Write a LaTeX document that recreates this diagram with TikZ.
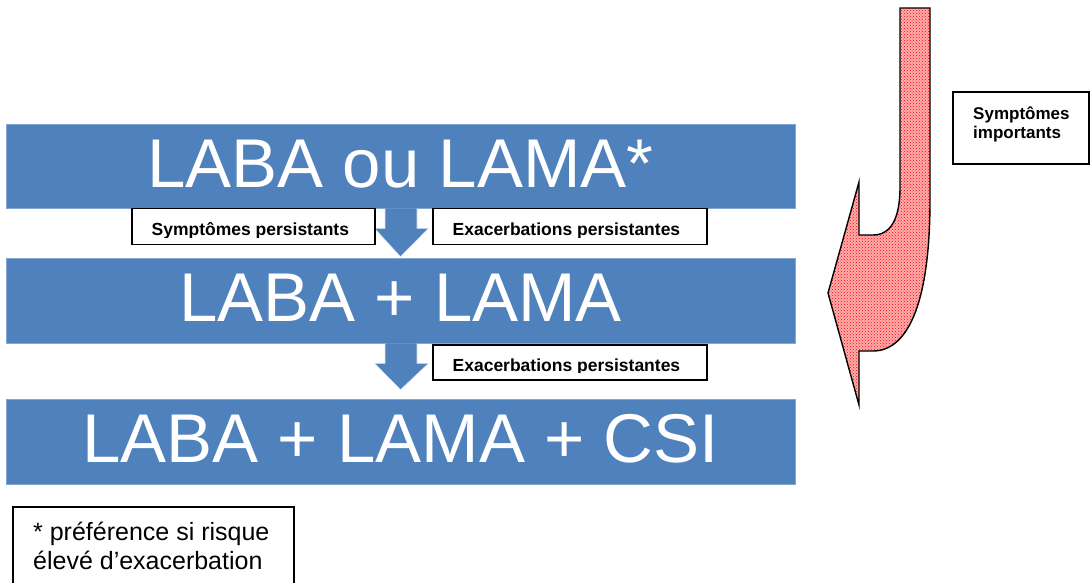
\documentclass[tikz,border=0pt]{standalone}
\usepackage{fontspec}
\setmainfont{Liberation Sans}
\usetikzlibrary{patterns,calc}
\definecolor{stepblue}{HTML}{4F81BD}
\tikzset{
  bigbox/.style={fill=stepblue, draw=stepblue!70!white, line width=0.6pt, text=white, inner sep=0pt,
    minimum width=789pt, text height=50pt, text depth=8pt,
    font=\fontsize{69}{80}\selectfont},
  blockarrow/.style={fill=stepblue, draw=white!80!stepblue, line width=0.6pt},
  lblbox/.style={draw=black, line width=1.3pt, fill=white, inner sep=0pt},
  lbltext/.style={font=\bfseries\fontsize{17.5}{20}\selectfont, inner sep=0pt,
    minimum width=0pt, minimum height=0pt, draw=none, fill=none},
  notebox/.style={draw=black, line width=1.3pt, fill=white, inner sep=0pt},
}
\begin{document}
\begin{tikzpicture}[x=1pt,y=-1pt]
\useasboundingbox (0,0) rectangle (1090,582);
\clip (0,0) rectangle (1090,582);

% blue steps
\node[bigbox, minimum height=84pt] (b1) at (400.5,166) {LABA ou LAMA*};
\node[bigbox, minimum height=85pt] (b2) at (400.5,300.5) {LABA + LAMA};
\node[bigbox, minimum height=85pt] (b3) at (400.5,441.5) {LABA + LAMA + CSI};

% block arrows between steps
\filldraw[blockarrow]
  ([xshift=-15.5pt]b1.south) -- ([xshift=-15.5pt,yshift=-20pt]b1.south)
  -- ([xshift=-26pt,yshift=-20pt]b1.south) -- ([yshift=1pt]b2.north)
  -- ([xshift=28pt,yshift=-20pt]b1.south) -- ([xshift=16.5pt,yshift=-20pt]b1.south)
  -- ([xshift=16.5pt]b1.south);
\filldraw[blockarrow]
  ([xshift=-15.5pt]b2.south) -- ([xshift=-15.5pt,yshift=-20pt]b2.south)
  -- ([xshift=-26pt,yshift=-20pt]b2.south) -- ([yshift=9pt]b3.north)
  -- ([xshift=28pt,yshift=-20pt]b2.south) -- ([xshift=16.5pt,yshift=-20pt]b2.south)
  -- ([xshift=16.5pt]b2.south);

% condition labels
\node[lblbox, minimum width=243pt, minimum height=36pt,
  path picture={
    \clip (path picture bounding box.north west) rectangle ([yshift=7.5pt]path picture bounding box.south east);
    \node[lbltext, anchor=base west] at ([xshift=19pt,yshift=9pt]path picture bounding box.south west) {Symptômes persistants};
  }] (l1) at (253.5,226.5) {};
\node[lblbox, minimum width=274pt, minimum height=36pt,
  path picture={
    \clip (path picture bounding box.north west) rectangle ([yshift=7.5pt]path picture bounding box.south east);
    \node[lbltext, anchor=base west] at ([xshift=19pt,yshift=9pt]path picture bounding box.south west) {Exacerbations persistantes};
  }] (l2) at (570,226.5) {};
\node[lblbox, minimum width=274pt, minimum height=35pt,
  path picture={
    \clip (path picture bounding box.north west) rectangle ([yshift=7.5pt]path picture bounding box.south east);
    \node[lbltext, anchor=base west] at ([xshift=19pt,yshift=9pt]path picture bounding box.south west) {Exacerbations persistantes};
  }] (l3) at (570,362.5) {};

% red curved arrow
\path[fill=red!32]
  (900,8) -- (930,8) -- (930,200) .. controls (930,310) and (905,351) .. (873,351)
  -- (859,351) -- (859,405) -- (828,293) -- (859,182) -- (859,235) -- (873,235)
  .. controls (890,235) and (900,220) .. (900,187) -- cycle;
\path[pattern=crosshatch dots, pattern color=red]
  (900,8) -- (930,8) -- (930,200) .. controls (930,310) and (905,351) .. (873,351)
  -- (859,351) -- (859,405) -- (828,293) -- (859,182) -- (859,235) -- (873,235)
  .. controls (890,235) and (900,220) .. (900,187) -- cycle;
\draw[line width=1.4pt, line join=miter]
  (900,8) -- (930,8) -- (930,200) .. controls (930,310) and (905,351) .. (873,351)
  -- (859,351) -- (859,405) -- (828,293) -- (859,182) -- (859,235) -- (873,235)
  .. controls (890,235) and (900,220) .. (900,187) -- cycle;

% side label
\node[notebox, minimum width=136pt, minimum height=72pt] (si) at (1021,128) {};
\node[lbltext, anchor=north west, align=left, font=\bfseries\fontsize{17}{19}\selectfont] (sit) at (973,106.5) {Symptômes\\importants};

% footnote
\node[notebox, minimum width=281pt, minimum height=90pt] (fn) at (153.5,552) {};
\node[anchor=north west, align=left, inner sep=0pt, font=\fontsize{25}{29}\selectfont] (fnt) at (33,522) {* préférence si risque\\élevé d’exacerbation};
\end{tikzpicture}
\end{document}
